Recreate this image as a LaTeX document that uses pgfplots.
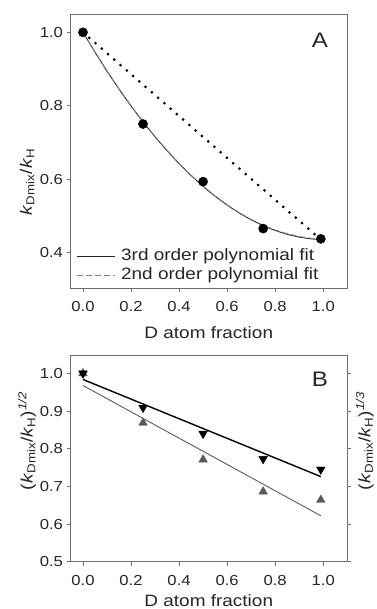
\documentclass[border=0pt]{standalone}
\usepackage{pgfplots}
\pgfplotsset{compat=1.18}
\usepackage{fontspec}
\setmainfont[FakeStretch=1.15]{Liberation Sans}
\definecolor{axgray}{HTML}{6E6E6E}
\definecolor{trigray}{HTML}{5A5A5A}
\pgfplotsset{
  myax/.style={
    scale only axis,
    anchor=south west,
    width=276.5pt,
    xmin=-0.052, xmax=1.099,
    axis line style={draw=axgray, line width=0.8pt},
    tick style={draw=axgray, line width=0.8pt},
    tick align=outside,
    major tick length=4pt,
    xtick={0,0.2,0.4,0.6,0.8,1.0},
    xtick pos=bottom,
    /pgf/number format/.cd, fixed, fixed zerofill, precision=1, assume math mode=true,
    /pgfplots/.cd,
    ticklabel style={font=\fontsize{14.5}{17}\selectfont, text=black!85},
    xticklabel style={yshift=-6pt},
    label style={font=\fontsize{16.5}{19}\selectfont, text=black!85},
    clip=false,
  }
}
\begin{document}
\begin{tikzpicture}
\path[use as bounding box] (0,0) rectangle (376pt,609pt);
% Panel A
\begin{axis}[myax,
  at={(70.5pt,321pt)},
  height=274pt,
  ymin=0.303, ymax=1.05,
  ytick={0.4,0.6,0.8,1.0},
  ytick pos=left,
  xlabel={D atom fraction},
  ylabel={\textit{k}\textsubscript{Dmix}/\textit{k}\textsubscript{H}},
  xlabel style={at={(axis description cs:0.5,-0.162)}, anchor=center},
  ylabel style={at={(axis description cs:-0.157,0.387)}, anchor=center, rotate=0},
  legend style={draw=none, fill=none, inner sep=0pt, at={(axis description cs:0.02,0.011)}, anchor=south west,
    font=\fontsize{16.5}{19}\selectfont, text=black!85, row sep=1pt,
    nodes={inner sep=1pt, text height=12pt, text depth=4pt}},
  legend cell align=left,
  legend image code/.code={\draw[#1] (0pt,0pt) -- (38pt,0pt); \path (43pt,0pt);},
]
\addplot[black!85, line width=0.9pt] coordinates {
(0,1.0) (0.05,0.9456) (0.1,0.8940) (0.15,0.8451) (0.2,0.7990) (0.25,0.7557)
(0.3,0.7150) (0.35,0.6771) (0.4,0.6419) (0.45,0.6096) (0.5,0.5800) (0.55,0.5530)
(0.6,0.5289) (0.65,0.5075) (0.7,0.4888) (0.75,0.4729) (0.8,0.4597) (0.85,0.4493)
(0.9,0.4417) (0.95,0.4368) (0.99,0.4350)};
\addlegendentry{3rd order polynomial fit}
\addplot[black!50, line width=0.9pt, dash pattern=on 6pt off 3pt] coordinates {
(0,1.0) (0.05,0.9460) (0.1,0.8946) (0.15,0.8458) (0.2,0.7998) (0.25,0.7565)
(0.3,0.7159) (0.35,0.6780) (0.4,0.6428) (0.45,0.6104) (0.5,0.5808) (0.55,0.5539)
(0.6,0.5298) (0.65,0.5085) (0.7,0.4899) (0.75,0.4741) (0.8,0.4611) (0.85,0.4509)
(0.9,0.4434) (0.95,0.4387) (0.99,0.4368)};
\addlegendentry{2nd order polynomial fit}
\addplot[black, line width=3pt, line cap=round, dash pattern=on 0pt off 8.3pt, forget plot] coordinates {(0,1.0) (0.99,0.435)};
\addplot[only marks, mark=*, mark size=4.6pt, mark options={fill=black, draw=black}, forget plot] coordinates {
(0,1.0) (0.25,0.75) (0.5,0.593) (0.75,0.465) (0.99,0.437)};
\node[font=\fontsize{21}{24}\selectfont, text=black!85] at (axis description cs:0.902,0.905) {A};
\end{axis}
% Panel B
\begin{axis}[myax,
  at={(70.5pt,47.3pt)},
  height=206.7pt,
  ymin=0.5, ymax=1.049,
  ytick={0.5,0.6,0.7,0.8,0.9,1.0},
  ytick pos=both,
  yticklabel pos=left,
  xlabel={D atom fraction},
  ylabel={(\textit{k}\textsubscript{Dmix}/\textit{k}\textsubscript{H})\textsuperscript{\textit{1/2}}},
  xlabel style={at={(axis description cs:0.5,-0.186)}, anchor=center, inner sep=0pt},
  ylabel style={at={(axis description cs:-0.157,0.584)}, anchor=center, rotate=0},
]
\addplot[black, line width=1.4pt] coordinates {(0,0.984) (0.99,0.726)};
\addplot[trigray, line width=0.9pt] coordinates {(0,0.968) (0.99,0.622)};
\addplot[only marks, mark=triangle*, mark size=5pt, mark options={fill=trigray, draw=trigray}] coordinates {
(0,1.0) (0.25,0.869) (0.5,0.771) (0.75,0.686) (0.99,0.664)};
\addplot[only marks, mark=triangle*, mark size=5pt, mark options={fill=black, draw=black, rotate=180}] coordinates {
(0,1.0) (0.25,0.909) (0.5,0.840) (0.75,0.773) (0.99,0.745)};
\node[font=\fontsize{21}{24}\selectfont, text=black!85] at (axis description cs:0.902,0.884) {B};
\node[font=\fontsize{16.5}{19}\selectfont, text=black!85, rotate=90, inner sep=0pt] at (axis description cs:1.064,0.584)
  {(\textit{k}\textsubscript{Dmix}/\textit{k}\textsubscript{H})\textsuperscript{\textit{1/3}}};
\end{axis}
\end{tikzpicture}
\end{document}
